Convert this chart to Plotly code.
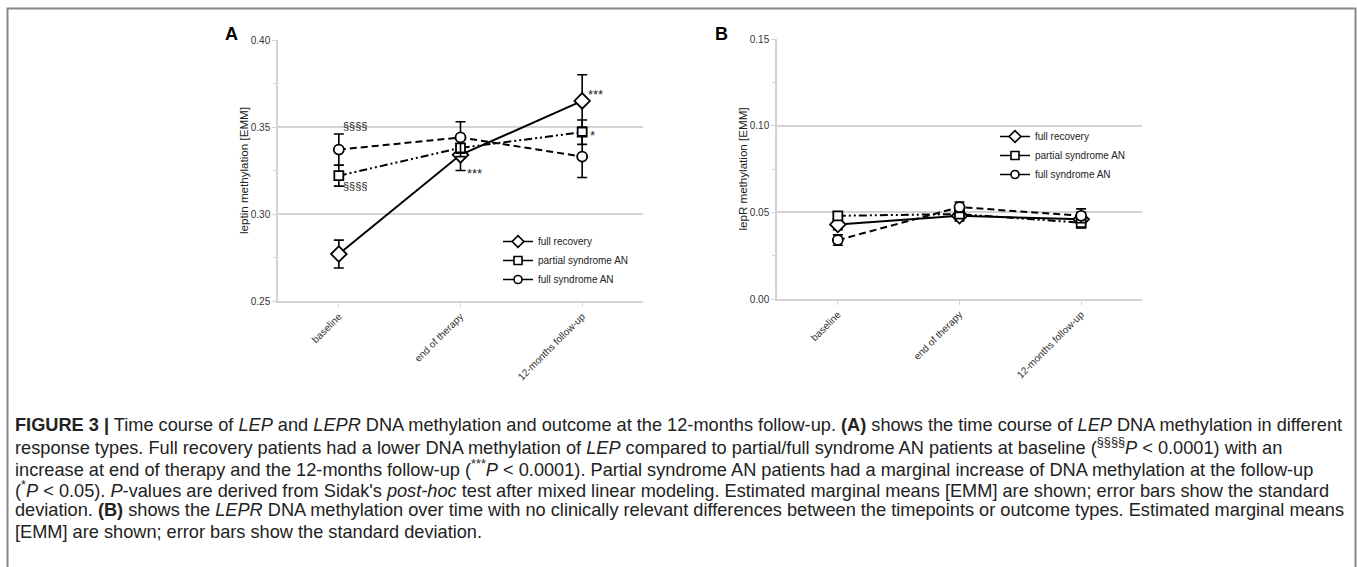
import plotly.graph_objects as go

W, H = 1357, 567

timepoints = ["baseline", "end of therapy", "12-months follow-up"]
groups = ["full recovery", "partial syndrome AN", "full syndrome AN"]

# Panel A: leptin methylation [EMM]
lep_mean = {
    "full recovery": [0.277, 0.334, 0.365],
    "partial syndrome AN": [0.322, 0.338, 0.347],
    "full syndrome AN": [0.337, 0.344, 0.333],
}
lep_sd = {
    "full recovery": [0.008, 0.009, 0.015],
    "partial syndrome AN": [0.006, 0.005, 0.007],
    "full syndrome AN": [0.009, 0.009, 0.012],
}

# Panel B: lepR methylation [EMM]
lepr_mean = {
    "full recovery": [0.043, 0.048, 0.046],
    "partial syndrome AN": [0.048, 0.049, 0.044],
    "full syndrome AN": [0.034, 0.053, 0.048],
}
lepr_sd = {
    "full recovery": [0.003, 0.003, 0.004],
    "partial syndrome AN": [0.002, 0.002, 0.003],
    "full syndrome AN": [0.003, 0.003, 0.004],
}

symbols = {"full recovery": "diamond", "partial syndrome AN": "square", "full syndrome AN": "circle"}
dashes = {"full recovery": "solid", "partial syndrome AN": "8px,3px,2px,3px,2px,3px", "full syndrome AN": "7px,4px"}
msize = {"full recovery": 12, "partial syndrome AN": 9, "full syndrome AN": 10}

FONT = "Liberation Sans, Arial, sans-serif"

fig = go.Figure()

for panel, means, sds, xa, ya, leg in [
    ("A", lep_mean, lep_sd, "x", "y", "legend"),
    ("B", lepr_mean, lepr_sd, "x2", "y2", "legend2"),
]:
    for g in groups:
        fig.add_trace(go.Scatter(
            x=timepoints, y=means[g], name=g, mode="lines+markers",
            xaxis=xa, yaxis=ya, showlegend=False,
            line=dict(color="black", width=2, dash=dashes[g]),
            marker=dict(symbol=symbols[g], size=msize[g], color="white",
                        line=dict(color="black", width=1.8)),
            error_y=dict(type="data", array=sds[g], color="black", thickness=1.6, width=5),
        ))
    # legend entries (smaller symbols, as in the reference key)
    for g in groups:
        fig.add_trace(go.Scatter(
            x=[None], y=[None], name=g, mode="lines+markers", xaxis=xa, yaxis=ya, legend=leg,
            line=dict(color="black", width=1.5, dash="solid"),
            marker=dict(symbol=symbols[g], size=9 if g == "full recovery" else 8, color="white",
                        line=dict(color="black", width=1.6)),
        ))

grid = "#d4d4d4"
tickfont = dict(family=FONT, size=10, color="#333")

def yaxis(rng, dtick, title, anchor, dom):
    return dict(range=rng, dtick=dtick, tickformat=".2f", showgrid=True, gridcolor=grid, gridwidth=1.5,
                showline=True, linecolor=grid, linewidth=1.5, ticks="outside", ticklen=4, tickcolor=grid,
                minor=dict(ticks="outside", ticklen=3, tickcolor=grid, dtick=dtick / 2, showgrid=False),
                zeroline=False, tickfont=tickfont, anchor=anchor, domain=dom, automargin=False,
                title=dict(text=title, font=dict(family=FONT, size=11.6, color="#222"), standoff=0))

def xaxis(anchor, dom):
    return dict(type="category", range=[-0.5, 2.5], showgrid=False, showline=True, linecolor=grid, linewidth=1.5,
                ticks="outside", ticklen=4, tickcolor=grid, tickangle=-45, automargin=False,
                tickfont=dict(family=FONT, size=10, color="#333"),
                anchor=anchor, domain=dom, zeroline=False)

legfont = dict(family=FONT, size=10, color="#222")
fig.update_layout(
    width=W, height=H, margin=dict(l=0, r=0, t=0, b=0, pad=0, autoexpand=False),
    paper_bgcolor="white", plot_bgcolor="white", showlegend=True,
    xaxis=xaxis("y", [278 / W, 643 / W]),
    yaxis=yaxis([0.25, 0.40], 0.05, "leptin methylation [EMM]", "x", [1 - 301 / H, 1 - 40 / H]),
    xaxis2=xaxis("y2", [777 / W, 1142 / W]),
    yaxis2=yaxis([0.0, 0.15], 0.05, "lepR methylation [EMM]", "x2", [1 - 299 / H, 1 - 39 / H]),
    legend=dict(x=498 / W, y=1 - 227 / H, xanchor="left", yanchor="top", bgcolor="rgba(0,0,0,0)",
                font=legfont, itemwidth=30, tracegroupgap=0),
    legend2=dict(x=995 / W, y=1 - 122 / H, xanchor="left", yanchor="top", bgcolor="rgba(0,0,0,0)",
                 font=legfont, itemwidth=30, tracegroupgap=0),
)

# significance annotations (panel A)
sig = [
    ("§§§§", 0, 0.3505, 16, 11),
    ("§§§§", 0, 0.3160, 16, 11),
    ("***", 1, 0.3230, 14, 13),
    ("***", 2, 0.3685, 13, 13),
    ("*", 2, 0.3450, 10, 13),
]
for txt, xi, yv, xs, fs in sig:
    fig.add_annotation(x=xi, y=yv, xref="x", yref="y", text=txt, showarrow=False, xshift=xs,
                       font=dict(family=FONT, size=fs, color="#222"))

# panel letters
for letter, px in [("A", 231.5), ("B", 721.5)]:
    fig.add_annotation(x=px / W, y=1 - 34 / H, xref="paper", yref="paper", text=f"<b>{letter}</b>",
                       xanchor="center", yanchor="middle",
                       showarrow=False, font=dict(family=FONT, size=18, color="black"))

# caption
caption = [
    "<b>FIGURE 3 |</b> Time course of <i>LEP</i> and <i>LEPR</i> DNA methylation and outcome at the 12-months follow-up. <b>(A)</b> shows the time course of <i>LEP</i> DNA methylation in different",
    "response types. Full recovery patients had a lower DNA methylation of <i>LEP</i> compared to partial/full syndrome AN patients at baseline (<sup>§§§§</sup><i>P</i> &lt; 0.0001) with an",
    "increase at end of therapy and the 12-months follow-up (<sup>***</sup><i>P</i> &lt; 0.0001). Partial syndrome AN patients had a marginal increase of DNA methylation at the follow-up",
    "(<sup>*</sup><i>P</i> &lt; 0.05). <i>P</i>-values are derived from Sidak's <i>post-hoc</i> test after mixed linear modeling. Estimated marginal means [EMM] are shown; error bars show the standard",
    "deviation. <b>(B)</b> shows the <i>LEPR</i> DNA methylation over time with no clinically relevant differences between the timepoints or outcome types. Estimated marginal means",
    "[EMM] are shown; error bars show the standard deviation.",
]
for i, line in enumerate(caption):
    fig.add_annotation(x=13 / W, y=1 - (425 + i * 21.3) / H, xref="paper", yref="paper", text=line,
                       showarrow=False, xanchor="left", yanchor="middle", align="left",
                       font=dict(family=FONT, size=18.2, color="#222"))

# outer frame
fig.add_shape(type="rect", xref="paper", yref="paper", x0=7.5 / W, x1=1355.5 / W, y0=-0.05, y1=1 - 8.5 / H,
              line=dict(color="#888", width=2), fillcolor="rgba(0,0,0,0)")

fig.write_html("out.html", config={"displayModeBar": False},
               post_script="document.body.style.margin='0';document.body.style.overflow='hidden';")
